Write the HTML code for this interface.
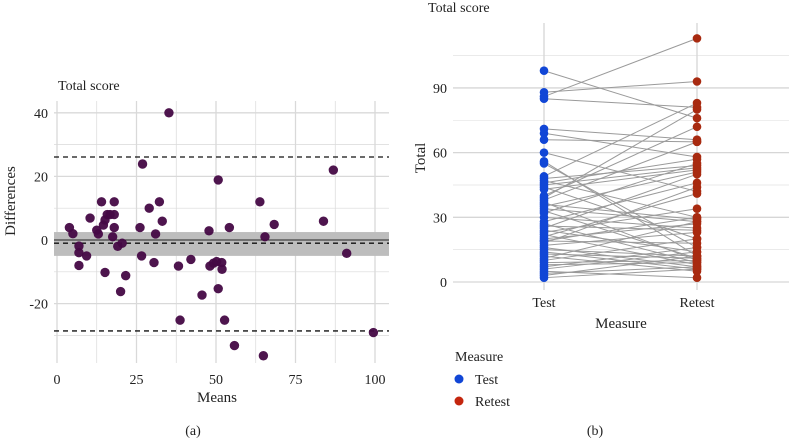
<!DOCTYPE html>
<html><head><meta charset="utf-8">
<style>
html,body{margin:0;padding:0;background:#fff;}
svg{display:block;}
svg text{font-family:"Liberation Serif",serif;}
</style></head>
<body>
<svg id="chart" width="789" height="440" viewBox="0 0 789 440" xmlns="http://www.w3.org/2000/svg" font-family="Liberation Serif, serif">
<g id="left"></g>
<g id="right"></g>
</svg>
<script>
// ---------- Panel (a) data ----------
const baMeans = [3.9,5,6.9,6.9,6.9,9.3,10.4,12.5,13,14,15.1,14.6,15.1,15.8,16.7,18,18,18,17.5,19.1,20.5,21.6,20,26.1,26.9,26.6,29,30.5,31,32.2,33.1,35.2,38.2,38.7,42.1,45.6,47.8,48.1,49.2,50.7,50.2,51.8,51.9,50.7,52.7,54.2,55.8,63.8,65.4,64.9,68.3,83.8,86.9,91.1,99.5];
const baDiffs = [3.9,2,-1.9,-4,-8,-5,6.9,3.1,1.9,12,-10.2,4.7,6.3,8,8,12,8,3.9,1,-2,-1,-11.2,-16.2,3.9,23.9,-5,10,-7.1,1.9,12,5.9,40,-8.2,-25.2,-6.1,-17.3,2.9,-8.2,-7.3,18.9,-6.8,-7.1,-9.2,-15.3,-25.2,3.9,-33.2,12,1,-36.4,4.9,5.9,22,-4.2,-29.1];
const baXTicks = [0,25,50,75,100];
const baYTicks = [-20,0,20,40];
const baMeanDiff = -1;
const baUpper = 26.1;
const baLower = -28.6;
const baBandHi = 2.5;
const baBandLo = -5;

// ---------- Panel (b) data ----------
const measures = ["Test","Retest"];
const testVals   = [98,88,86,85,71,69,66,60,56,55,49,48,47,46,45,44,43,40,39,38,37,36,35,34,33,32,30,28,27,25,24,23,22,21,20,19,18,17,16,15,14,13,12,11,10,9,8,7,6,5,4,3,2,19,26];
const retestVals = [76,93,113,81,66,58,65,42,12,16,83,54,30,57,53,20,52,72,80,65,10,29,51,28,11,55,25,46,9,50,14,34,8,41,27,18,44,23,7,12,6,11,5,28,20,10,9,16,14,2,7,12,6,30,24];
const totalTicks = [0,30,60,90];

const NS="http://www.w3.org/2000/svg";
function mk(parent,tag,attrs,text){
  const e=document.createElementNS(NS,tag);
  for(const k in attrs) e.setAttribute(k,attrs[k]);
  if(text!==undefined) e.textContent=text;
  parent.appendChild(e); return e;
}
const L=document.getElementById('left'), R=document.getElementById('right');

// ---------- Panel (a) ----------
const ax={x0:54,x1:389,y0:101,y1:363};
const xA=v=>57+v*3.18;
const yA=v=>240-v*3.18;
for(let v=-12.5;v<=112.5;v+=12.5){const x=xA(v); if(x<ax.x0||x>ax.x1)continue;
  const g=mk(L,'line',{x1:x,x2:x,y1:ax.y0,y2:ax.y1,stroke:'#d9d9d9','stroke-width':(v%25===0)?1.3:0.7});
  
  }
for(let v=-30;v<=40;v+=10){
  const g=mk(L,'line',{x1:ax.x0,x2:ax.x1,y1:yA(v),y2:yA(v),stroke:'#d9d9d9','stroke-width':(v%20===0)?1.3:0.7});
  
  }
const band=mk(L,'rect',{x:ax.x0,y:yA(baBandHi),width:ax.x1-ax.x0,height:yA(baBandLo)-yA(baBandHi),fill:'#bdbdbd'});


const zl=mk(L,'line',{x1:ax.x0,x2:ax.x1,y1:yA(0),y2:yA(0),stroke:'#222','stroke-width':1});


[[baMeanDiff,'mean-difference-line'],[baUpper,'upper-limit-line'],[baLower,'lower-limit-line']].forEach(([v,n])=>{
  const l=mk(L,'line',{x1:ax.x0,x2:ax.x1,y1:yA(v),y2:yA(v),stroke:'#111','stroke-width':1.3,'stroke-dasharray':'5,4'});
  
  
});
baMeans.forEach((m,i)=>{
  const c=mk(L,'circle',{cx:xA(m),cy:yA(baDiffs[i]),r:4.7,fill:'#440845','fill-opacity':0.95});
  
  
});
baXTicks.forEach(v=>{const t=mk(L,'text',{x:xA(v),y:384,'text-anchor':'middle','font-size':14,fill:'#222'},v);
  
  });
baYTicks.forEach(v=>{const t=mk(L,'text',{x:48,y:yA(v)+5,'text-anchor':'end','font-size':14,fill:'#222'},v);
  
  });
let t;
t=mk(L,'text',{x:58,y:90,'font-size':14,fill:'#222'},'Total score');


t=mk(L,'text',{x:217,y:402,'text-anchor':'middle','font-size':15,fill:'#222'},'Means');


t=mk(L,'text',{x:0,y:0,'text-anchor':'middle','font-size':15,fill:'#222',transform:'translate(15,201) rotate(-90)'},'Differences');


t=mk(L,'text',{x:193,y:435,'text-anchor':'middle','font-size':14,fill:'#222'},'(a)');



// ---------- Panel (b) ----------
const bx={x0:453,x1:789,y0:23,y1:290};
const xB=i=>[544,697][i];
const yB=v=>282-v*2.156;
for(let v=15;v<=105;v+=30){const g=mk(R,'line',{x1:bx.x0,x2:bx.x1,y1:yB(v),y2:yB(v),stroke:'#e3e3e3','stroke-width':0.7});
  
  }
totalTicks.forEach(v=>{const g=mk(R,'line',{x1:bx.x0,x2:bx.x1,y1:yB(v),y2:yB(v),stroke:'#d6d6d6','stroke-width':1.3});
  
  });
measures.forEach((m,i)=>{const g=mk(R,'line',{x1:xB(i),x2:xB(i),y1:bx.y0,y2:bx.y1,stroke:'#d6d6d6','stroke-width':1.3});
  
  });
testVals.forEach((v,i)=>{
  const l=mk(R,'line',{x1:xB(0),y1:yB(v),x2:xB(1),y2:yB(retestVals[i]),stroke:'#9a9a9a','stroke-width':1});
  
  
});
testVals.forEach(v=>{const c=mk(R,'circle',{cx:xB(0),cy:yB(v),r:4.3,fill:'#1146d6'});
  
  });
retestVals.forEach(v=>{const c=mk(R,'circle',{cx:xB(1),cy:yB(v),r:4.3,fill:'#a82a10'});
  
  });
totalTicks.forEach(v=>{const t2=mk(R,'text',{x:447,y:yB(v)+5,'text-anchor':'end','font-size':14,fill:'#222'},v);
  
  });
measures.forEach((m,i)=>{const t2=mk(R,'text',{x:xB(i),y:307,'text-anchor':'middle','font-size':14,fill:'#222'},m);
  
  });
t=mk(R,'text',{x:428,y:12,'font-size':14,fill:'#222'},'Total score');


t=mk(R,'text',{x:621,y:328,'text-anchor':'middle','font-size':15,fill:'#222'},'Measure');


t=mk(R,'text',{x:0,y:0,'text-anchor':'middle','font-size':15,fill:'#222',transform:'translate(425,158) rotate(-90)'},'Total');


const lg=mk(R,'g',{});


t=mk(lg,'text',{x:455,y:361,'font-size':14,fill:'#222'},'Measure');


[['Test','#1146d6',379],['Retest','#c4260e',401]].forEach(([n,c,y])=>{
  const g=mk(lg,'g',{});
  
  
  mk(g,'circle',{cx:459,cy:y,r:4.5,fill:c});
  mk(g,'text',{x:475,y:y+5,'font-size':14,fill:'#222'},n);
});
t=mk(R,'text',{x:595,y:435,'text-anchor':'middle','font-size':14,fill:'#222'},'(b)');


</script>
</body></html>
